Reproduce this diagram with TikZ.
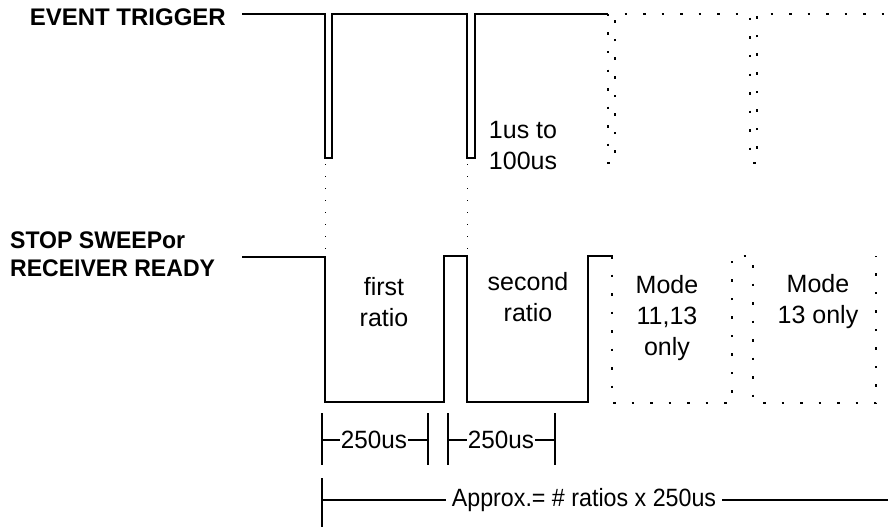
\documentclass[tikz,border=0pt]{standalone}
\usepackage{fontspec}
\setmainfont{Liberation Sans}
\usetikzlibrary{calc}

\begin{document}
\begin{tikzpicture}[x=1pt,y=-1pt,
    sig/.style={line width=2.2pt},
    dots/.style={line width=2.4pt,dash pattern=on 2.5pt off 16pt},
    guide/.style={line width=0.9pt,dash pattern=on 1pt off 11pt},
    dim/.style={line width=1.8pt},
    lbl/.style={font=\fontsize{25}{31}\selectfont,align=center,inner sep=1pt},
    signame/.style={font=\fontsize{24}{28}\selectfont\bfseries,inner sep=0pt}]
  \useasboundingbox (0,0) rectangle (888,527);
  % signal names
  \node[signame,anchor=east] (evt) at (226,17) {EVENT TRIGGER};
  \node[signame,anchor=west,align=left] (stop) at (10,254) {\scalebox{0.96}[1]{STOP SWEEPor}\\\scalebox{0.96}[1]{RECEIVER READY}};
  % event trigger trace
  \draw[sig] (242,14) -- (325,14) -- (325,158) -- (332,158) -- (332,14)
    -- (467,14) -- (467,158) -- (475,158) -- (475,14) -- (608,14);
  \draw[dots] (608,14) -- (608,163) -- (615,163) -- (615,14) -- (750,14)
    -- (750,163) -- (757,163) -- (757,14) -- (888,14);
  \draw[guide] (325,164) -- (325,256);
  \draw[guide] (467,164) -- (467,256);
  \node[lbl] (pw) at (523,146) {1us to\\100us};
  % stop sweep trace
  \draw[sig] (242,257) -- (325,257) -- (325,402) -- (444,402) -- (444,256)
    -- (467,256) -- (467,402) -- (588,402) -- (588,256) -- (613,256);
  \draw[dots] (612,256) -- (612,403) -- (732,403) -- (732,256) -- (753,256)
    -- (753,403) -- (876,403) -- (876,256);
  \node[lbl] (first) at (384,302) {first\\ratio};
  \node[lbl] (second) at (528,297) {second\\ratio};
  \node[lbl] (mode1) at (667,318) {Mode\\11,13\\only};
  \node[lbl] (mode2) at (818,302) {Mode\\13 only};
  % durations
  \draw[dim] (322,413) -- (322,465);
  \draw[dim] (428,413) -- (428,465);
  \draw[dim] (448,413) -- (448,465);
  \draw[dim] (555,413) -- (555,465);
  \node[lbl] (dur1) at (374,440) {\scalebox{0.97}[1]{250us}};
  \node[lbl] (dur2) at (501,440) {\scalebox{0.97}[1]{250us}};
  \draw[dim] (322,440) -- (dur1.west) (dur1.east) -- (428,440);
  \draw[dim] (448,440) -- (dur2.west) (dur2.east) -- (555,440);
  \draw[dim] (322,478) -- (322,527);
  \node[lbl,inner sep=6pt] (approx) at (584,500) {\scalebox{0.93}[1]{Approx.= \# ratios x 250us}};
  \draw[dim] (322,500) -- (approx.west) (approx.east) -- (888,500);
\end{tikzpicture}
\end{document}
